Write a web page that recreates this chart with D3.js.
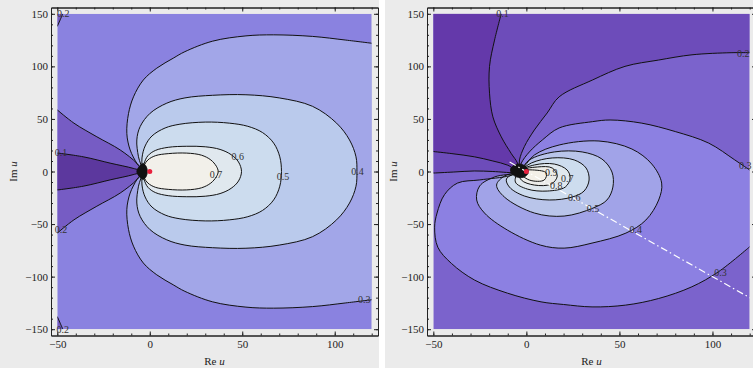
<!DOCTYPE html>
<html>
<head>
<meta charset="utf-8">
<script src="https://cdn.jsdelivr.net/npm/d3@7"></script>
<style>
  html, body { margin: 0; padding: 0; background: #fff; }
  svg { display: block; }
  text { font-family: "Liberation Serif", "Times New Roman", serif; }
</style>
</head>
<body>
<svg id="chart" width="753" height="368"></svg>
<script>
// plot range and ticks (Re u, Im u)
const reRange = [-50, 120];
const imRange = [-150, 150];
const xMajor = [-50, 0, 50, 100];
const xMinor = [-50, -40, -30, -20, -10, 0, 10, 20, 30, 40, 50, 60, 70, 80, 90, 100, 110, 120];
const yMajor = [-150, -100, -50, 0, 50, 100, 150];
const yMinor = [-150, -140, -130, -120, -110, -100, -90, -80, -70, -60, -50, -40, -30, -20, -10, 0,
  10, 20, 30, 40, 50, 60, 70, 80, 90, 100, 110, 120, 130, 140, 150];
const markPts = [[0, 0]];

// ---- left plot: contour lines, [Re, Im]
const leftC01 = [[-50, 17.6], [-36, 14], [-21, 7.8], [-9, 3], [-4, 0], [-9, -3], [-21, -7.8], [-36, -14], [-50, -17.6]];
const leftC02 = [[-50, 58.6], [-41, 46], [-28.6, 33], [-16, 20.5], [-7, 7.8], [-4, 0], [-7, -7.8], [-16, -20.5], [-28.6, -33], [-41, -46], [-50, -58.6]];
const leftC02Top = [[-50, 138], [-48.5, 144], [-47, 150]];
const leftC02Bot = [[-50, -138], [-48.5, -144], [-47, -150]];
const leftC03 = [[120, -122], [106, -125], [88, -128.5], [67, -130], [52, -129], [34, -124], [19, -114], [12.7, -107.8],
  [3.8, -98.3], [-3.5, -87], [-8.8, -71], [-11.5, -55], [-12.4, -36], [-10.6, -20.5], [-7, -7.8], [-4, 0],
  [-7, 7.8], [-10.6, 20.5], [-12.4, 36], [-11.5, 55], [-8.8, 71], [-3.5, 87], [3.8, 98.3], [12.7, 107.8],
  [19, 114], [34, 124], [52, 129], [67, 130], [88, 128.5], [106, 125], [120, 122]];
const leftC04 = [[-4, 0], [-6.1, 14], [-7, 30], [-5.2, 42.7], [0.2, 55.4], [9.2, 65], [19, 70], [34, 72.5], [52, 73], [70, 70],
  [88, 62], [101, 46], [108, 30], [111.5, 14], [112, 0], [111.5, -14], [108, -30], [101, -46], [88, -62], [70, -70],
  [52, -73], [34, -72.5], [19, -70], [9.2, -65], [0.2, -55.4], [-5.2, -42.7], [-7, -30], [-6.1, -14]];
const leftC05 = [[-4, 0], [-4.2, 12.9], [-2.5, 24.3], [1.2, 33.8], [8.3, 41.4], [16.3, 45], [30, 47], [43, 46], [53, 43],
  [61, 37], [67, 27], [70.3, 14], [71.2, 0], [70.3, -14], [67, -27], [61, -37], [53, -43], [43, -46], [30, -47],
  [16.3, -45], [8.3, -41.4], [1.2, -33.8], [-2.5, -24.3], [-4.2, -12.9]];
const leftC06 = [[-4, 0], [-3, 8], [-1, 15], [3, 20], [10, 23], [20, 24], [30, 23.5], [38, 21], [44, 16], [48, 9], [49.6, 0],
  [48, -9], [44, -16], [38, -21], [30, -23.5], [20, -24], [10, -23], [3, -20], [-1, -15], [-3, -8]];
const leftC07 = [[-4, 0], [-3, 6], [-1, 11], [3, 15], [10, 17], [20, 17.5], [28, 15.5], [33, 11], [36, 5], [37, 0],
  [36, -5], [33, -11], [28, -15.5], [20, -17.5], [10, -17], [3, -15], [-1, -11], [-3, -6]];
// where the contours crowd into the singular point
const leftCore = [[-7, 0], [-5.8, 4.5], [-3.6, 7.5], [-2, 5], [-1.3, 0], [-2, -5], [-3.6, -7.5], [-5.8, -4.5]];
const leftBands = ["#5c389e", "#765cc4", "#8a82e0", "#a2a6e8", "#bacaec", "#ccdcee", "#e0e8ee", "#f2f0ea"];
const leftLabels = [["0.2", -46.8, 150], ["0.1", -48, 17.6], ["0.2", -48, -55], ["0.2", -47, -150],
  ["0.7", 35.8, -3], ["0.6", 47.6, 14], ["0.5", 72, -5], ["0.4", 112.3, 0], ["0.3", 116, -122]];

// ---- right plot
const rightC01 = [[-13.5, 150], [-17.1, 125], [-19.8, 100], [-19.8, 74.5], [-18, 52], [-13.5, 33], [-8.2, 17.3], [-4.8, 8.1],
  [-4, 0], [-10, 6], [-18, 10], [-28, 14], [-40, 17], [-50, 19]];
const rightC02 = [[120, 113], [110, 113], [89, 111], [71, 106], [53, 100], [35.5, 87], [17.6, 71], [11.2, 55.7], [4.3, 39.5],
  [-1.1, 23.6], [-3.7, 11], [-4, 0], [-7, -1], [-18, 0], [-28, 0.5], [-39, -0.5], [-50, -1.5]];
const rightC03 = [[120, 1.4], [112, 11], [98, 27], [80, 38], [62, 46], [45, 49], [35.5, 47.4], [17.6, 41.4], [8.6, 30],
  [1.6, 18.6], [-2.7, 8.1], [-4, 0], [-9, -4], [-25, -8], [-37, -11], [-44, -22], [-48, -39.5], [-49.3, -53],
  [-47.6, -72], [-40.3, -87.4], [-27.8, -103.3], [-10.2, -115.7], [7.9, -124], [20, -126.5], [35.3, -128.8],
  [53.3, -127.1], [71.1, -120.8], [88.9, -109.7], [103.2, -95.4], [120, -71.6]];
const rightC04 = [[-4, 0], [4.3, 15.7], [17.6, 25.2], [39, 29], [56.7, 21.4], [67.4, 7.1], [72.7, -11], [71.1, -27.1],
  [64.2, -46.2], [53.5, -58.6], [35.3, -68.1], [20.3, -72.9], [7.5, -70], [-10.2, -55.7], [-22.5, -39.5],
  [-26.7, -27.1], [-25.1, -13.8], [-17.1, -5.2]];
const rightC05 = [[-4, 0], [1.6, 11], [15, 18.6], [30, 18.6], [40.6, 11.9], [46, -0.5], [46.5, -14.8], [43.3, -27.1],
  [35.8, -34.8], [20.3, -42.4], [4.3, -39.5], [-11.8, -24.3], [-16, -12.9], [-11.8, -4.3]];
const rightC06 = [[-4, 0], [2.7, 8.1], [13.9, 12.9], [25.7, 11], [32.1, 3.3], [33.7, -8.1], [31, -18.6], [24.6, -24.3],
  [12.3, -27.1], [-1.1, -23.3], [-9.1, -14.8], [-10.7, -7.1]];
const rightC07 = [[-4, 0], [4.3, 6.2], [15, 7.1], [21.9, 1.4], [23.5, -6.2], [20.9, -14.8], [11.2, -18.6], [0.5, -16.7], [-5.9, -10]];
const rightC08 = [[-4, 0], [5.9, 4.3], [13.9, 3.3], [16.6, -4.3], [13.4, -11.9], [4.3, -12.9], [-2.7, -8.1]];
const rightC09 = [[-4, 0], [4.3, 1.4], [10.7, -1.4], [9.6, -8.1], [1.6, -8.1]];
const rightCore = [[-8.5, 2.5], [-6, 6.5], [-2.5, 6.8], [0.5, 3], [1, -1.5], [-1.5, -5.5], [-5.5, -5], [-8, -1.5]];
const rightBands = ["#6439aa", "#6d4cba", "#7b63cc", "#8c80e2", "#a1a3e8", "#b9c5ea", "#cddcee", "#e0e8ee", "#ecece9", "#f4f0e8"];
const rightLabels = [["0.1", -12.8, 150], ["0.2", 116.6, 112], ["0.3", 117.6, 6], ["0.3", 104.3, -95.7],
  ["0.4", 58.8, -54.8], ["0.5", 35.8, -34.8], ["0.6", 25.7, -24.3], ["0.9", 13.4, -1.4], ["0.7", 22, -6.2], ["0.8", 16, -12.9]];
const rightRay = [[-9, 9], [130, -130]];

// paint order: base band, then pieces (close: 0 loop, +1/-1 walk the frame ccw/cw)
const panels = [
  {
    img: [0, 379], xr: [51, 378], titleX: 12.5, bands: leftBands, labels: leftLabels, ray: null, core: leftCore,
    pieces: [
      { pts: leftC02, band: 1, close: -1 },
      { pts: leftC02Top, band: 1, close: 1 },
      { pts: leftC02Bot, band: 1, close: -1 },
      { pts: leftC01, band: 0, close: -1 },
      { pts: leftC03, band: 3, close: -1 },
      { pts: leftC04, band: 4, close: 0 },
      { pts: leftC05, band: 5, close: 0 },
      { pts: leftC06, band: 6, close: 0 },
      { pts: leftC07, band: 7, close: 0 }
    ]
  },
  {
    img: [385, 753], xr: [427, 756], titleX: 393, bands: rightBands, labels: rightLabels, ray: rightRay, core: rightCore,
    pieces: [
      { pts: rightC02, band: 1, close: -1 },
      { pts: rightC01, band: 0, close: -1 },
      { pts: rightC03, band: 3, close: 1 },
      { pts: rightC04, band: 4, close: 0 },
      { pts: rightC05, band: 5, close: 0 },
      { pts: rightC06, band: 6, close: 0 },
      { pts: rightC07, band: 7, close: 0 },
      { pts: rightC08, band: 8, close: 0 },
      { pts: rightC09, band: 9, close: 0 }
    ]
  }
];

const svg = d3.select('#chart');
const yr = [335.5, 7.5];

// frame corners passed when walking from the last point back to the first
function frameCorners(pts, dir) {
  const [x0, x1] = reRange, [y0, y1] = imRange;
  const W = x1 - x0, H = y1 - y0, P = 2 * (W + H);
  const mod = v => ((v % P) + P) % P;
  const perim = ([x, y]) => {
    const d = [Math.abs(y - y0), Math.abs(x1 - x), Math.abs(y1 - y), Math.abs(x - x0)];
    const e = d.indexOf(Math.min(...d));
    if (e === 0) return x - x0;
    if (e === 1) return W + (y - y0);
    if (e === 2) return W + H + (x1 - x);
    return 2 * W + H + (y1 - y);
  };
  const corners = [[x1, y0, W], [x1, y1, W + H], [x0, y1, 2 * W + H], [x0, y0, 0]];
  const tEnd = perim(pts[pts.length - 1]), tStart = perim(pts[0]);
  const arc = dir > 0 ? mod(tStart - tEnd) : mod(tEnd - tStart);
  return corners
    .map(c => ({ p: [c[0], c[1]], k: dir > 0 ? mod(c[2] - tEnd) : mod(tEnd - c[2]) }))
    .filter(c => c.k > 0 && c.k < arc)
    .sort((a, b) => a.k - b.k)
    .map(c => c.p);
}

panels.forEach((cfg, i) => {
  const padX = (reRange[1] - reRange[0]) * 0.02, padY = (imRange[1] - imRange[0]) * 0.02;
  const x = d3.scaleLinear().domain([reRange[0] - padX, reRange[1] + padX]).range(cfg.xr);
  const y = d3.scaleLinear().domain([imRange[0] - padY, imRange[1] + padY]).range(yr);

  svg.append('rect')
    .attr('x', cfg.img[0]).attr('y', 0)
    .attr('width', cfg.img[1] - cfg.img[0]).attr('height', 368)
    .attr('fill', '#ebebeb');

  const px = x(reRange[0]), py = y(imRange[1]);
  const pw = x(reRange[1]) - px, ph = y(imRange[0]) - py;
  svg.append('clipPath').attr('id', 'clip' + i)
    .append('rect').attr('x', px).attr('y', py).attr('width', pw).attr('height', ph);

  const plot = svg.append('g').attr('clip-path', `url(#clip${i})`);
  plot.append('rect')
    .attr('x', px).attr('y', py).attr('width', pw).attr('height', ph)
    .attr('fill', cfg.bands[2]);

  const openLine = d3.line().x(d => x(d[0])).y(d => y(d[1])).curve(d3.curveCatmullRom.alpha(0.5));
  const loopLine = d3.line().x(d => x(d[0])).y(d => y(d[1])).curve(d3.curveCatmullRomClosed.alpha(0.5));

  // shaded bands
  cfg.pieces.forEach(pc => {
    let dPath;
    if (pc.close === 0) {
      dPath = loopLine(pc.pts);
    } else {
      dPath = openLine(pc.pts) +
        frameCorners(pc.pts, pc.close).map(p => `L${x(p[0])},${y(p[1])}`).join('') + 'Z';
    }
    plot.append('path').attr('d', dPath).attr('fill', cfg.bands[pc.band]).attr('stroke', 'none');
  });

  // contour lines
  cfg.pieces.forEach(pc => {
    plot.append('path')
      .attr('d', pc.close === 0 ? loopLine(pc.pts) : openLine(pc.pts))
      .attr('fill', 'none')
      .attr('stroke', '#111')
      .attr('stroke-width', 1)
      .attr('stroke-linejoin', 'round');
  });

  plot.append('path')
    .attr('d', loopLine(cfg.core))
    .attr('fill', '#111')
    .attr('stroke', '#111')
    .attr('stroke-width', 0.8);

  if (cfg.ray) {
    plot.append('path')
      .attr('d', d3.line().x(d => x(d[0])).y(d => y(d[1]))(cfg.ray))
      .attr('fill', 'none')
      .attr('stroke', '#fff')
      .attr('stroke-width', 1.2)
      .attr('stroke-dasharray', '7,3,1.5,3');
  }

  plot.selectAll('circle.mark')
    .data(markPts)
    .join('circle')
    .attr('class', 'mark')
    .attr('cx', d => x(d[0])).attr('cy', d => y(d[1]))
    .attr('r', 2.5)
    .attr('fill', '#e8203c');

  svg.append('g').selectAll('text')
    .data(cfg.labels)
    .join('text')
    .attr('x', d => x(d[1])).attr('y', d => y(d[2]))
    .attr('text-anchor', 'middle')
    .attr('dominant-baseline', 'central')
    .attr('font-size', 10)
    .attr('fill', '#333')
    .text(d => d[0]);

  // frame with inward ticks
  const fmt = d3.format('d');
  const axes = [
    [d3.axisBottom(x).tickValues(xMajor).tickFormat(fmt).tickPadding(5), `translate(0,${yr[0]})`, 4],
    [d3.axisBottom(x).tickValues(xMinor).tickFormat(''), `translate(0,${yr[0]})`, 2],
    [d3.axisTop(x).tickValues(xMajor).tickFormat(''), `translate(0,${yr[1]})`, 4],
    [d3.axisTop(x).tickValues(xMinor).tickFormat(''), `translate(0,${yr[1]})`, 2],
    [d3.axisLeft(y).tickValues(yMajor).tickFormat(fmt).tickPadding(3), `translate(${cfg.xr[0]},0)`, 4],
    [d3.axisLeft(y).tickValues(yMinor).tickFormat(''), `translate(${cfg.xr[0]},0)`, 2],
    [d3.axisRight(y).tickValues(yMajor).tickFormat(''), `translate(${cfg.xr[1]},0)`, 4],
    [d3.axisRight(y).tickValues(yMinor).tickFormat(''), `translate(${cfg.xr[1]},0)`, 2]
  ];
  axes.forEach(([ax, tr, len]) => {
    const g = svg.append('g')
      .attr('transform', tr)
      .call(ax.tickSize(-len).tickSizeOuter(0));
    g.attr('font-family', null).attr('font-size', 11);
    g.selectAll('path, line').attr('stroke', '#222');
    g.selectAll('text').attr('fill', '#222');
  });

  const cx = (x(reRange[0]) + x(reRange[1])) / 2;
  const xt = svg.append('text')
    .attr('x', cx).attr('y', 365)
    .attr('text-anchor', 'middle')
    .attr('font-size', 11)
    .attr('fill', '#222');
  xt.append('tspan').text('Re ');
  xt.append('tspan').attr('font-style', 'italic').text('u');

  const yt = svg.append('text')
    .attr('transform', `translate(${cfg.titleX},${y(0)}) rotate(-90)`)
    .attr('text-anchor', 'middle')
    .attr('dominant-baseline', 'central')
    .attr('font-size', 11)
    .attr('fill', '#222');
  yt.append('tspan').text('Im ');
  yt.append('tspan').attr('font-style', 'italic').text('u');
});
</script>
</body>
</html>
